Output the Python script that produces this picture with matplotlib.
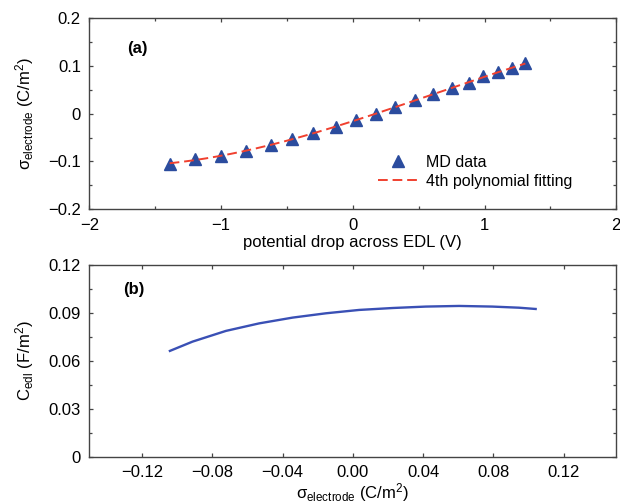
import numpy as np
import matplotlib
matplotlib.use('Agg')
import matplotlib.pyplot as plt
from matplotlib.ticker import MultipleLocator, FixedLocator, FuncFormatter

plt.rcParams['font.family'] = ['Liberation Sans', 'DejaVu Sans']
plt.rcParams['mathtext.fontset'] = 'custom'
plt.rcParams['mathtext.rm'] = 'Liberation Sans'
plt.rcParams['mathtext.it'] = 'Liberation Sans:italic'
plt.rcParams['font.size'] = 12

# (a) MD data: potential drop (V) vs surface charge density (C/m^2)
pot_drop = [-1.39, -1.20, -1.00, -0.81, -0.62, -0.46, -0.30, -0.13, 0.025, 0.18,
            0.32, 0.47, 0.61, 0.75, 0.885, 0.99, 1.105, 1.21, 1.31]
sigma_md = [-0.105, -0.095, -0.088, -0.078, -0.066, -0.053, -0.041, -0.028, -0.013, -0.0004,
            0.015, 0.029, 0.041, 0.053, 0.065, 0.078, 0.087, 0.095, 0.106]

# (b) capacitance vs surface charge
sigma_b = [-0.1041, -0.0912, -0.0722, -0.0533, -0.0343, -0.0153, 0.0036, 0.0226,
           0.0416, 0.0605, 0.0794, 0.0946, 0.1041]
c_edl = [0.0663, 0.0721, 0.0788, 0.0835, 0.0871, 0.0898, 0.0919, 0.0931,
         0.0940, 0.0944, 0.0940, 0.0933, 0.0925]

spine_col = '#444444'
md_col = '#2b4c9e'
fit_col = '#f0402f'
line_col = '#3a50b5'
fs = 12


def g_fmt(v, pos):
    s = '%g' % round(v, 6)
    return s.replace('-', '\u2212')


def style(ax):
    for s in ax.spines.values():
        s.set_color(spine_col)
        s.set_linewidth(1.0)
    ax.tick_params(which='both', direction='in', top=True, right=True,
                   color=spine_col, labelsize=fs, pad=6)
    ax.tick_params(which='major', length=3.2, width=0.9)
    ax.tick_params(which='minor', length=2.0, width=0.9)


fig = plt.figure(figsize=(6.2, 5.03), dpi=100)

# ---- panel (a)
ax1 = fig.add_axes([0.144, 0.584, 0.850, 0.380])
coef = np.polyfit(pot_drop, sigma_md, 4)
vv = np.linspace(min(pot_drop), max(pot_drop), 200)
ax1.plot(vv, np.polyval(coef, vv), color=fit_col, lw=1.4, dashes=(5, 2.5),
         label='4th polynomial fitting', zorder=3)
ax1.plot(pot_drop, sigma_md, ls='none', marker='^', ms=8.5, color=md_col,
         mec=md_col, label='MD data', zorder=2)
ax1.set_xlim(-2, 2)
ax1.set_ylim(-0.2, 0.2)
ax1.xaxis.set_major_locator(MultipleLocator(1))
ax1.xaxis.set_minor_locator(MultipleLocator(0.5))
ax1.yaxis.set_major_locator(MultipleLocator(0.1))
ax1.yaxis.set_minor_locator(MultipleLocator(0.05))
ax1.xaxis.set_major_formatter(FuncFormatter(g_fmt))
ax1.yaxis.set_major_formatter(FuncFormatter(g_fmt))
style(ax1)
ax1.set_xlabel('potential drop across EDL (V)', fontsize=fs)
ax1.xaxis.set_label_coords(0.5, -0.135)
ax1.set_ylabel(r'σ$_{\mathrm{electrode}}$ (C/m$^2$)', fontsize=fs)
ax1.yaxis.set_label_coords(-0.102, 0.5)
ax1.text(0.072, 0.84, '(a)', transform=ax1.transAxes, fontsize=fs,
         fontweight='bold', va='center')
h, l = ax1.get_legend_handles_labels()
ax1.legend(h[::-1], l[::-1], loc='lower left', bbox_to_anchor=(0.535, 0.075),
           frameon=False, fontsize=11.5, handlelength=2.6, handletextpad=0.4,
           labelspacing=0.25, borderaxespad=0)

# ---- panel (b)
ax2 = fig.add_axes([0.144, 0.0915, 0.850, 0.3817])
ax2.plot(sigma_b, c_edl, color=line_col, lw=1.7)
ax2.set_xlim(-0.15, 0.15)
ax2.set_ylim(0, 0.12)
ax2.xaxis.set_major_locator(FixedLocator([-0.12, -0.08, -0.04, 0.0, 0.04, 0.08, 0.12]))
ax2.xaxis.set_major_formatter(FuncFormatter(lambda v, p: ('%.2f' % v).replace('-', '\u2212')))
ax2.yaxis.set_major_locator(MultipleLocator(0.03))
ax2.yaxis.set_minor_locator(MultipleLocator(0.015))
ax2.yaxis.set_major_formatter(FuncFormatter(g_fmt))
style(ax2)
ax2.set_xlabel(r'σ$_{\mathrm{electrode}}$ (C/m$^2$)', fontsize=fs)
ax2.xaxis.set_label_coords(0.5, -0.125)
ax2.set_ylabel(r'C$_{\mathrm{edl}}$ (F/m$^2$)', fontsize=fs)
ax2.yaxis.set_label_coords(-0.102, 0.5)
ax2.text(0.064, 0.87, '(b)', transform=ax2.transAxes, fontsize=fs,
         fontweight='bold', va='center')

fig.savefig('out.png', dpi=100)
